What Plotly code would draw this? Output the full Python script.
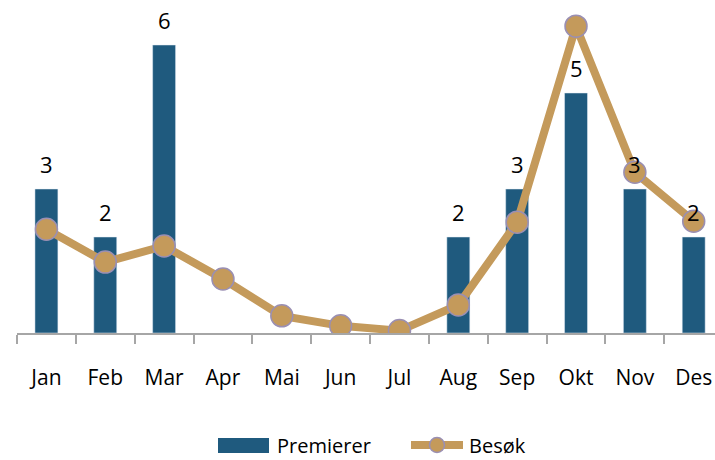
import plotly.graph_objects as go

months = ["Jan", "Feb", "Mar", "Apr", "Mai", "Jun", "Jul", "Aug", "Sep", "Okt", "Nov", "Des"]
premierer = [3, 2, 6, None, None, None, None, 2, 3, 5, 3, 2]
besok = [1090, 745, 915, 567, 180, 75, 25, 295, 1165, 3225, 1690, 1175]

BAR = "#1F5A7E"
LINE = "#C49A5B"
MEDGE = "#9A8FB3"
FONT = "Open Sans"

fig = go.Figure()
fig.add_trace(go.Bar(
    x=months, y=premierer, name="Premierer", marker_color=BAR, width=0.39,
    showlegend=False, hoverinfo="x+y"))
fig.add_trace(go.Scatter(
    x=months, y=besok, name="Besøk", yaxis="y2", mode="lines+markers",
    line=dict(color=LINE, width=8),
    marker=dict(size=22, color=LINE, line=dict(color=MEDGE, width=1.5)),
    showlegend=False))

annotations = []
for m, v in zip(months, premierer):
    if v:
        annotations.append(dict(x=m, y=v, xref="x", yref="y", text=str(v),
                                showarrow=False, yanchor="middle", yshift=25,
                                font=dict(family=FONT, size=22, color="#000000")))

# custom legend (paper coords relative to plot area)
PL, PW, PH = 17, 698, 333
def px(x):
    return (x - PL) / PW
def py(y):
    return (PH - y) / PH

shapes = [
    dict(type="rect", xref="paper", yref="paper", x0=px(218), x1=px(269), y0=py(453), y1=py(438),
         fillcolor=BAR, line=dict(width=0)),
    dict(type="line", xref="paper", yref="paper", x0=px(411), x1=px(463), y0=py(445), y1=py(445),
         line=dict(color=LINE, width=8)),
    dict(type="circle", xref="paper", yref="paper", x0=px(429.5), x1=px(444.5), y0=py(452.5), y1=py(437.5),
         fillcolor=LINE, line=dict(color=MEDGE, width=1.5)),
]
annotations += [
    dict(x=px(275), y=py(445), xref="paper", yref="paper", text="Premierer", showarrow=False,
         xanchor="left", yanchor="middle", font=dict(family=FONT, size=20, color="#000000")),
    dict(x=px(467), y=py(445), xref="paper", yref="paper", text="Besøk", showarrow=False,
         xanchor="left", yanchor="middle", font=dict(family=FONT, size=20, color="#000000")),
]

fig.update_layout(
    width=715, height=460,
    margin=dict(l=17, r=0, t=0, b=127),
    plot_bgcolor="white", paper_bgcolor="white",
    font=dict(family=FONT, size=20, color="#000000"),
    xaxis=dict(type="category", range=[-0.5, 11.362], showgrid=False,
               showline=True, linecolor="#A6A6A6", linewidth=1.5,
               ticks="outside", tickson="boundaries", ticklen=9, tickcolor="#A6A6A6", tickwidth=1.5,
               ticklabelstandoff=25, tickfont=dict(family=FONT, size=21, color="#000000")),
    yaxis=dict(range=[0, 333 / 48], visible=False, showgrid=False, zeroline=False),
    yaxis2=dict(range=[0, 3500], overlaying="y", visible=False, showgrid=False, zeroline=False),
    shapes=shapes, annotations=annotations, bargap=0.6,
)

fig.write_html("out.html", config={"displayModeBar": False},
               post_script="document.body.style.margin='0';document.body.style.overflow='hidden';")
